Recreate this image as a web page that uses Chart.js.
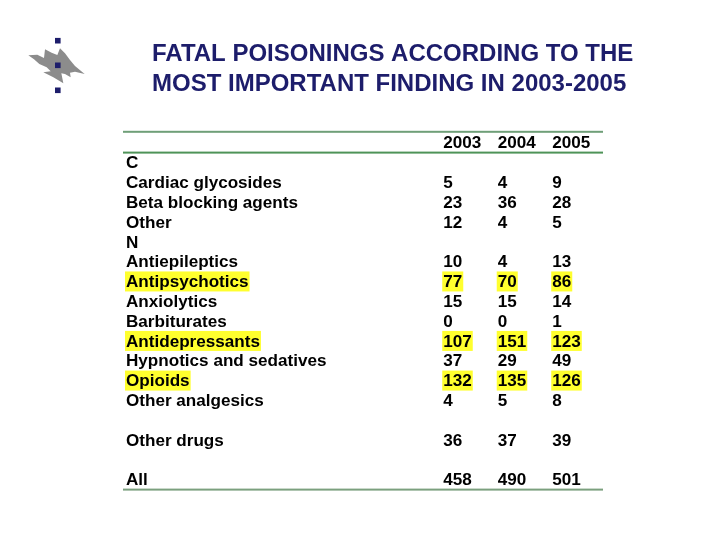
<!DOCTYPE html>
<html lang="en">
<head>
<meta charset="UTF-8" />
<title>Fatal poisonings</title>
<script src="https://cdn.jsdelivr.net/npm/chart.js"></script>
<style>
  html, body { margin: 0; padding: 0; background: #fff; }
  canvas { display: block; }
</style>
</head>
<body>
<canvas id="chart" width="720" height="540"></canvas>
<script>
const titleLines = ["FATAL POISONINGS ACCORDING TO THE", "MOST IMPORTANT FINDING IN 2003-2005"];
const years = ["2003", "2004", "2005"];
// blank rows are spacers in the table
const rows = ["C", "Cardiac glycosides", "Beta blocking agents", "Other", "N", "Antiepileptics",
  "Antipsychotics", "Anxiolytics", "Barbiturates", "Antidepressants", "Hypnotics and sedatives",
  "Opioids", "Other analgesics", " ", "Other drugs", "  ", "All"];
const values2003 = [null, 5, 23, 12, null, 10, 77, 15, 0, 107, 37, 132, 4, null, 36, null, 458];
const values2004 = [null, 4, 36, 4, null, 4, 70, 15, 0, 151, 29, 135, 5, null, 37, null, 490];
const values2005 = [null, 9, 28, 5, null, 13, 86, 14, 1, 123, 49, 126, 8, null, 39, null, 501];
const highlighted = ["Antipsychotics", "Antidepressants", "Opioids"];

const FONT = "Liberation Sans";
const FONT_SIZE = 17.1;
const cellFont = `bold ${FONT_SIZE}px "${FONT}"`;
const YELLOW = "#ffff2e";

function yearData(values, year) {
  return values
    .map((v, i) => ({ x: year, y: rows[i], v }))
    .filter((d) => d.v !== null);
}

const datasets = [values2003, values2004, values2005].map((values, i) => ({
  label: years[i],
  data: yearData(values, years[i]),
  pointRadius: 0,
  showLine: false,
}));

// slide furniture: heading, logo, green rules and the yellow behind row labels
const slidePlugin = {
  id: "slide",
  beforeDraw(chart) {
    const { ctx, chartArea } = chart;
    const yScale = chart.scales.y;
    ctx.save();
    ctx.fillStyle = "#fff";
    ctx.fillRect(0, 0, chart.width, chart.height);

    ctx.fillStyle = "#1d1d6b";
    ctx.font = `bold 24px "${FONT}"`;
    ctx.textBaseline = "alphabetic";
    ctx.textAlign = "left";
    ctx.fillText(titleLines[0], 152, 61);
    ctx.fillText(titleLines[1], 152, 91);

    // flame logo
    const flame = [[25,76],[52,74],[72,84],[75,58],[95,68],[112,75],[120,55],[135,70],[150,90],[165,108],[194,132],
      [165,125],[150,128],[152,142],[135,132],[124,130],[130,160],[100,142],[70,127],[92,124],[80,112],[58,102],[42,88]];
    ctx.fillStyle = "#8c8c8c";
    ctx.beginPath();
    flame.forEach(([x, y], i) => {
      const px = 20 + x / 3, py = 30 + y / 3;
      if (i === 0) ctx.moveTo(px, py); else ctx.lineTo(px, py);
    });
    ctx.closePath();
    ctx.fill();
    ctx.fillStyle = "#1d1d6b";
    [40.7, 65.3, 90.3].forEach((y) => ctx.fillRect(55, y - 2.8, 5.6, 5.6));

    // rules
    const left = yScale.left - 3, right = chartArea.right + 4.5;
    [[chartArea.top - 20.8, "#6f9f78"], [chartArea.top, "#4f9358"], [chartArea.bottom, "#7ba07e"]].forEach(([y, color]) => {
      ctx.fillStyle = color;
      ctx.fillRect(left, y - 1, right - left, 2);
    });

    // tick labels are drawn before the datasets, so this has to go first
    ctx.font = cellFont;
    ctx.fillStyle = YELLOW;
    highlighted.forEach((name) => {
      const y = yScale.getPixelForValue(rows.indexOf(name));
      ctx.fillRect(yScale.left - 1, y - 10, ctx.measureText(name).width + 2, 20);
    });
    ctx.restore();
  },
};

// table cells are drawn as text at the library's point positions
const cellPlugin = {
  id: "cells",
  afterDatasetsDraw(chart) {
    const { ctx } = chart;
    ctx.save();
    ctx.font = cellFont;
    ctx.textBaseline = "middle";
    ctx.textAlign = "left";
    const half = ctx.measureText("2003").width / 2;
    chart.data.datasets.forEach((ds, di) => {
      chart.getDatasetMeta(di).data.forEach((pt, i) => {
        const cell = ds.data[i];
        const text = String(cell.v);
        const x = pt.x - half;
        if (highlighted.includes(cell.y)) {
          ctx.fillStyle = YELLOW;
          ctx.fillRect(x - 1, pt.y - 10, ctx.measureText(text).width + 2, 20);
        }
        ctx.fillStyle = "#000";
        ctx.fillText(text, x, pt.y + 1);
      });
    });
    ctx.restore();
  },
};

new Chart(document.getElementById("chart"), {
  type: "scatter",
  data: { datasets },
  plugins: [slidePlugin, cellPlugin],
  options: {
    responsive: false,
    animation: false,
    events: [],
    layout: { padding: { left: 126, right: 121.5, top: 132, bottom: 50.4 } },
    plugins: { legend: { display: false }, tooltip: { enabled: false }, title: { display: false } },
    scales: {
      x: {
        type: "category",
        position: "top",
        labels: years,
        offset: true,
        grid: { display: false, drawTicks: false },
        border: { display: false },
        ticks: { color: "#000", font: { family: FONT, size: FONT_SIZE, weight: "bold" }, padding: -1, maxRotation: 0 },
        afterFit(scale) { scale.height = 20.6; },
      },
      y: {
        type: "category",
        labels: rows,
        offset: true,
        grid: { display: false, drawTicks: false },
        border: { display: false },
        ticks: { color: "#000", font: { family: FONT, size: FONT_SIZE, weight: "bold" }, crossAlign: "far", padding: 0, autoSkip: false, labelOffset: 1 },
        afterFit(scale) { scale.width = 309; },
      },
    },
  },
});
</script>
</body>
</html>
